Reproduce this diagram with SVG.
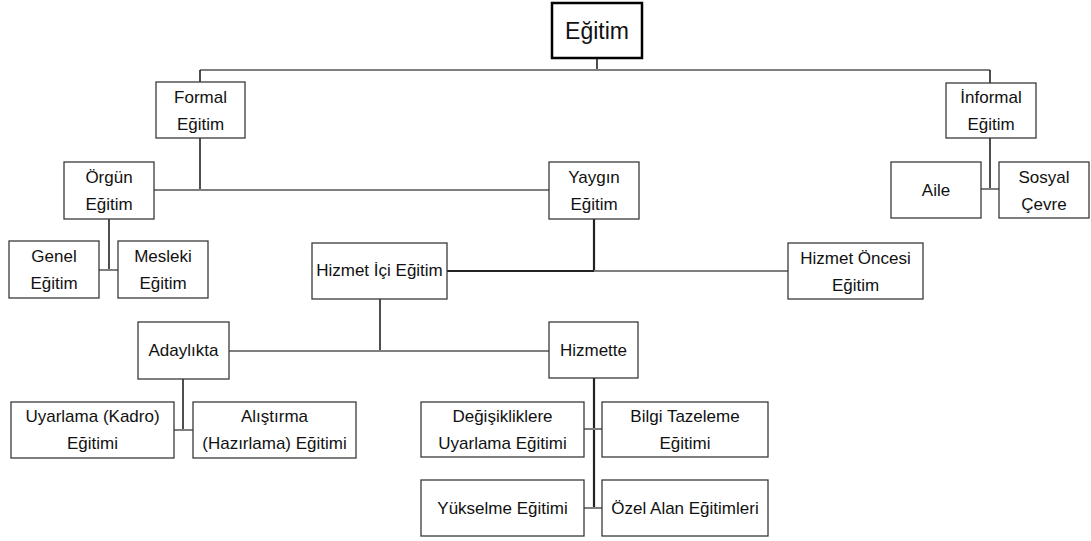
<svg xmlns="http://www.w3.org/2000/svg" width="1091" height="541" viewBox="0 0 1091 541">
<style>
.box{fill:#fff;stroke:#3a3a3a;stroke-width:1.3}
.root{fill:#fff;stroke:#000;stroke-width:2.5}
text{font-family:"Liberation Sans",Arial,sans-serif;font-size:17px;fill:#111;text-anchor:middle}
.t{font-size:23px}
.h{stroke:#7f7f7f;stroke-width:2;fill:none}
.v{stroke:#222;stroke-width:1.6;fill:none}
.k{stroke:#222;stroke-width:2.2;fill:none}
</style>
<rect width="1091" height="541" fill="#fff"/>
<g id="connectors">
<line class="v" x1="597" y1="58" x2="597" y2="70"/>
<line class="h" x1="200" y1="70" x2="990" y2="70"/>
<line class="v" x1="200" y1="70" x2="200" y2="82"/>
<line class="v" x1="990" y1="70" x2="990" y2="83"/>
<line class="v" x1="990" y1="138" x2="990" y2="189"/>
<line class="h" x1="981" y1="189" x2="999" y2="189"/>
<line class="v" x1="200" y1="138" x2="200" y2="190"/>
<line class="h" x1="154" y1="190" x2="549" y2="190"/>
<line class="v" x1="109" y1="219" x2="109" y2="270"/>
<line class="h" x1="99" y1="270" x2="118" y2="270"/>
<line class="k" x1="594" y1="219" x2="594" y2="271"/>
<line class="k" x1="447" y1="271" x2="594" y2="271"/>
<line class="h" x1="594" y1="271" x2="788" y2="271"/>
<line class="v" x1="380" y1="299" x2="380" y2="351"/>
<line class="h" x1="229" y1="351" x2="549" y2="351"/>
<line class="v" x1="183" y1="379" x2="183" y2="430"/>
<line class="h" x1="174" y1="430" x2="193" y2="430"/>
<line class="k" x1="594" y1="378" x2="594" y2="508"/>
<line class="h" x1="584" y1="429" x2="602" y2="429"/>
<line class="h" x1="584" y1="508" x2="602" y2="508"/>
</g>
<g id="egitim"><rect class="root" x="552" y="3" width="90" height="55"/><text class="t" x="597" y="39">Eğitim</text></g>
<g id="formal"><rect class="box" x="156" y="82" width="89" height="56"/><text x="200.5" y="103">Formal</text><text x="200.5" y="130">Eğitim</text></g>
<g id="informal"><rect class="box" x="946" y="83" width="90" height="55"/><text x="991" y="103">İnformal</text><text x="991" y="130">Eğitim</text></g>
<g id="aile"><rect class="box" x="891" y="162" width="90" height="56"/><text x="936" y="196">Aile</text></g>
<g id="sosyal"><rect class="box" x="999" y="162" width="90" height="56"/><text x="1044" y="183">Sosyal</text><text x="1044" y="210">Çevre</text></g>
<g id="orgun"><rect class="box" x="64" y="162" width="90" height="57"/><text x="109" y="183">Örgün</text><text x="109" y="210">Eğitim</text></g>
<g id="yaygin"><rect class="box" x="549" y="162" width="90" height="57"/><text x="594" y="183">Yaygın</text><text x="594" y="210">Eğitim</text></g>
<g id="genel"><rect class="box" x="9" y="241" width="90" height="57"/><text x="54" y="262">Genel</text><text x="54" y="289">Eğitim</text></g>
<g id="mesleki"><rect class="box" x="118" y="241" width="90" height="57"/><text x="163" y="262">Mesleki</text><text x="163" y="289">Eğitim</text></g>
<g id="hizmet-ici"><rect class="box" x="312" y="243" width="135" height="56"/><text x="379.5" y="276">Hizmet İçi Eğitim</text></g>
<g id="hizmet-oncesi"><rect class="box" x="788" y="243" width="135" height="56"/><text x="855.5" y="264">Hizmet Öncesi</text><text x="855.5" y="291">Eğitim</text></g>
<g id="adaylikta"><rect class="box" x="138" y="322" width="91" height="57"/><text x="183.5" y="356">Adaylıkta</text></g>
<g id="hizmette"><rect class="box" x="549" y="322" width="89" height="56"/><text x="593.5" y="356">Hizmette</text></g>
<g id="uyarlama"><rect class="box" x="11" y="402" width="163" height="56"/><text x="92.5" y="422">Uyarlama (Kadro)</text><text x="92.5" y="449">Eğitimi</text></g>
<g id="alistirma"><rect class="box" x="193" y="402" width="163" height="56"/><text x="274.5" y="422">Alıştırma</text><text x="274.5" y="449">(Hazırlama) Eğitimi</text></g>
<g id="degisiklik"><rect class="box" x="421" y="402" width="163" height="55"/><text x="502.5" y="422">Değişikliklere</text><text x="502.5" y="449">Uyarlama Eğitimi</text></g>
<g id="bilgi"><rect class="box" x="602" y="402" width="166" height="55"/><text x="685" y="422">Bilgi Tazeleme</text><text x="685" y="449">Eğitimi</text></g>
<g id="yukselme"><rect class="box" x="421" y="480" width="163" height="56"/><text x="502.5" y="514">Yükselme Eğitimi</text></g>
<g id="ozel"><rect class="box" x="602" y="480" width="166" height="56"/><text x="685" y="514">Özel Alan Eğitimleri</text></g>
</svg>
